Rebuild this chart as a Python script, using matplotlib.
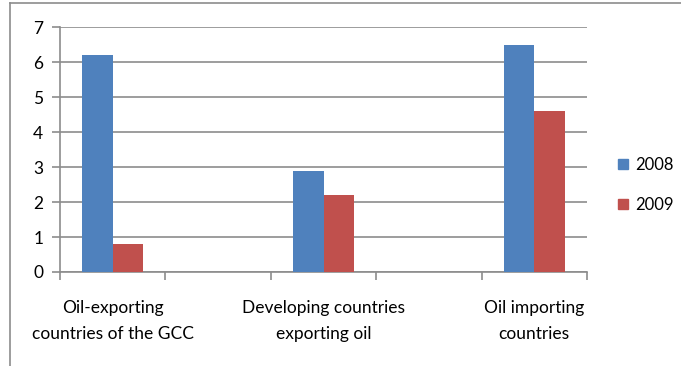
import numpy as np
import matplotlib
matplotlib.use("Agg")
import matplotlib.pyplot as plt
from matplotlib.lines import Line2D

plt.rcParams["font.family"] = ["Lato", "DejaVu Sans"]

# data: five category slots, only every other one is filled
categories = ["Oil-exporting\ncountries of the GCC", "",
              "Developing countries\nexporting oil", "",
              "Oil importing\ncountries"]
values_2008 = [6.2, np.nan, 2.9, np.nan, 6.5]
values_2009 = [0.8, np.nan, 2.2, np.nan, 4.6]
series_names = ["2008", "2009"]
y_ticks = [0, 1, 2, 3, 4, 5, 6, 7]

blue = "#4F81BD"
red = "#C0504D"
grid_gray = "#8C8C8C"

fig = plt.figure(figsize=(6.81, 3.66), dpi=100)
ax = fig.add_axes([60 / 681, 1 - 272 / 366, 527 / 681, 245 / 366])

x = np.arange(len(categories))
w = 0.29
ax.bar(x - w / 2, values_2008, width=w, color=blue, label=series_names[0], zorder=3)
ax.bar(x + w / 2, values_2009, width=w, color=red, label=series_names[1], zorder=3)

ax.set_xlim(-0.5, len(categories) - 0.5)
ax.set_ylim(0, 7)
ax.set_yticks(y_ticks)
ax.yaxis.grid(True, color=grid_gray, linewidth=1.2, zorder=0)

# category labels in the middle, tick marks on the boundaries
ax.set_xticks(x)
ax.set_xticklabels(categories, fontsize=12.5, linespacing=1.8)
ax.tick_params(axis="x", which="major", length=0, pad=20)
ax.set_xticks(np.arange(-0.5, len(categories)), minor=True)
ax.tick_params(axis="x", which="minor", length=6, width=1.2, color=grid_gray)
ax.tick_params(axis="y", length=6, width=1.2, color=grid_gray, labelsize=12.5, pad=6)

for side in ["top", "right"]:
    ax.spines[side].set_visible(False)
for side in ["left", "bottom"]:
    ax.spines[side].set_color(grid_gray)
    ax.spines[side].set_linewidth(1.2)

handles = [Line2D([], [], marker="s", linestyle="none", markersize=7.5,
                  color=c) for c in (blue, red)]
fig.legend(handles, series_names, loc="center left",
           bbox_to_anchor=(615 / 681, 1 - 185 / 366), frameon=False,
           fontsize=12, handletextpad=0.2, labelspacing=1.4, handlelength=1.0,
           borderpad=0, borderaxespad=0)

# outer chart frame, only its top and left edges fall inside the image
fig.add_artist(Line2D([10 / 681, 10 / 681], [0, 1 - 3 / 366],
                      transform=fig.transFigure, color=grid_gray, linewidth=1.2))
fig.add_artist(Line2D([10 / 681, 1], [1 - 3 / 366, 1 - 3 / 366],
                      transform=fig.transFigure, color=grid_gray, linewidth=1.2))

fig.savefig("out.png", dpi=100)
plt.close(fig)
